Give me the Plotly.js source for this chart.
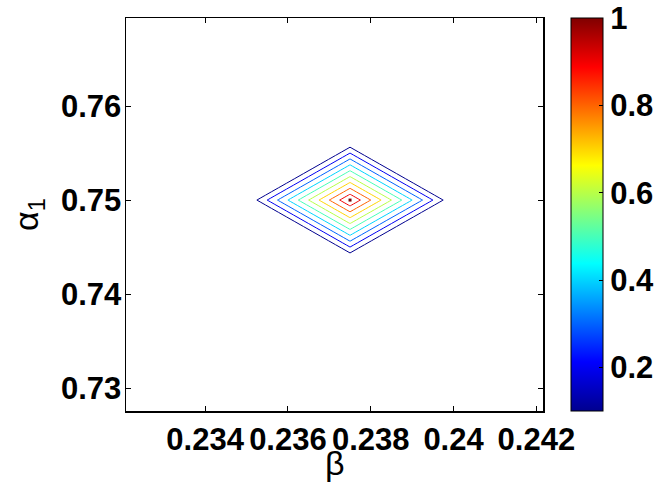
<!DOCTYPE html>
<html>
<head>
<meta charset="utf-8">
<script src="https://cdn.plot.ly/plotly-3.0.1.min.js"></script>
<style>html,body{margin:0;padding:0;background:#fff;}#chart{width:665px;height:485px;}</style>
</head>
<body>
<div id="chart"></div>
<script>
// Grid of (beta, alpha_1) sample points and the sampled surface values
const betaVals = [0.2325, 0.235, 0.2375, 0.24, 0.2425];
const alphaVals = [0.7375, 0.74375, 0.75, 0.75625, 0.7625];
const zVals = [
  [0, 0, 0, 0, 0],
  [0, 0, 0, 0, 0],
  [0, 0, 1, 0, 0],
  [0, 0, 0, 0, 0],
  [0, 0, 0, 0, 0]
];
const levelStart = 0.1, levelEnd = 1.0, levelStep = 0.1;
const xTickVals = [0.234, 0.236, 0.238, 0.24, 0.242];
const xTickText = ['0.234', '0.236', '0.238', '0.24', '0.242'];
const yTickVals = [0.73, 0.74, 0.75, 0.76];
const yTickText = ['0.73', '0.74', '0.75', '0.76'];
const cbTickVals = [0.2, 0.4, 0.6, 0.8, 1];
const cbTickText = ['0.2', '0.4', '0.6', '0.8', '1'];
const xTitle = 'β';
const yTitle = 'α<sub>1</sub>';

const jet = [
  [0, 'rgb(0,0,143)'],
  [0.125, 'rgb(0,0,255)'],
  [0.375, 'rgb(0,255,255)'],
  [0.625, 'rgb(255,255,0)'],
  [0.875, 'rgb(255,0,0)'],
  [1, 'rgb(128,0,0)']
];

// peak location from the data
let pk = {v: -Infinity, i: 0, j: 0};
zVals.forEach((row, i) => row.forEach((v, j) => { if (v > pk.v) pk = {v, i, j}; }));

const tickFont = {family: 'Liberation Sans, Arial, sans-serif', size: 31, weight: 'bold', color: '#000'};
const titleFont = {family: 'Liberation Sans, Arial, sans-serif', size: 34, color: '#000'};

const traces = [
  {
    type: 'heatmap', x: betaVals, y: alphaVals, z: zVals,
    zmin: levelStart, zmax: levelEnd, colorscale: jet, opacity: 0,
    hoverinfo: 'skip', showscale: true,
    colorbar: {
      x: 1.066, xanchor: 'left', xref: 'paper', y: 0.5, yanchor: 'middle',
      len: 1, lenmode: 'fraction', thickness: 32, thicknessmode: 'pixels',
      xpad: 0, ypad: 0, outlinewidth: 1, outlinecolor: '#000',
      tickmode: 'array', tickvals: cbTickVals, ticktext: cbTickText,
      ticks: 'inside', ticklen: 4, tickcolor: '#000', tickfont: tickFont
    }
  },
  {
    type: 'contour', x: betaVals, y: alphaVals, z: zVals,
    zmin: levelStart, zmax: levelEnd, zauto: false, colorscale: jet,
    autocontour: false,
    contours: {start: levelStart, end: levelEnd, size: levelStep, coloring: 'lines'},
    line: {width: 1, smoothing: 0},
    showscale: false, hoverinfo: 'skip'
  },
  {
    type: 'scatter', mode: 'markers',
    x: [betaVals[pk.j]], y: [alphaVals[pk.i]],
    marker: {symbol: 'square', size: 3, color: 'rgb(128,0,0)'},
    hoverinfo: 'skip', showlegend: false
  }
];

const layout = {
  width: 665, height: 485,
  margin: {l: 126, r: 122, t: 18, b: 74, pad: 0, autoexpand: false},
  paper_bgcolor: '#fff', plot_bgcolor: '#fff',
  showlegend: false,
  xaxis: {
    range: [0.23209, 0.24216], autorange: false,
    tickmode: 'array', tickvals: xTickVals, ticktext: xTickText,
    ticks: 'inside', ticklen: 5, tickcolor: '#000', tickwidth: 1,
    showline: true, linecolor: '#000', linewidth: 1.5, mirror: 'ticks',
    showgrid: false, zeroline: false, automargin: false,
    tickfont: tickFont
  },
  yaxis: {
    range: [0.72756, 0.76937], autorange: false,
    tickmode: 'array', tickvals: yTickVals, ticktext: yTickText,
    ticks: 'inside', ticklen: 5, tickcolor: '#000', tickwidth: 1,
    showline: true, linecolor: '#000', linewidth: 1.5, mirror: 'ticks',
    showgrid: false, zeroline: false, automargin: false,
    ticklabelstandoff: -3,
    tickfont: tickFont,
    title: {text: yTitle, font: titleFont, standoff: 12}
  },
  annotations: [{
    text: xTitle, xref: 'paper', yref: 'paper', x: 0.5, y: -0.08,
    xanchor: 'center', yanchor: 'top', showarrow: false, font: titleFont
  }]
};

Plotly.newPlot('chart', traces, layout, {displayModeBar: false, staticPlot: true});
</script>
</body>
</html>
